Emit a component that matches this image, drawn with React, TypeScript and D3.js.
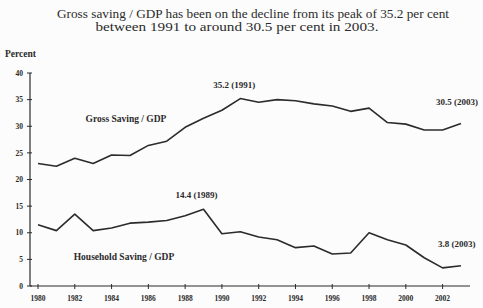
import * as d3 from 'd3';

const years = d3.range(1980, 2004);
const grossSaving = [23.0, 22.5, 24.0, 23.0, 24.6, 24.5, 26.4, 27.2, 29.8, 31.5, 33.0, 35.2, 34.5, 35.0, 34.8, 34.2, 33.8, 32.8, 33.4, 30.7, 30.4, 29.3, 29.3, 30.5];
const householdSaving = [11.5, 10.4, 13.5, 10.4, 10.9, 11.8, 12.0, 12.3, 13.2, 14.4, 9.8, 10.2, 9.2, 8.7, 7.2, 7.5, 6.0, 6.2, 10.0, 8.7, 7.7, 5.3, 3.4, 3.8];
const yTicks = [0, 5, 10, 15, 20, 25, 30, 35, 40];
const xTicks = d3.range(1980, 2004, 2);
const titleLines = [
  'Gross saving / GDP has been on the decline from its peak of 35.2 per cent',
  'between 1991 to around 30.5 per cent in 2003.',
];

const ink = '#2b2b2b';
const font = '"Liberation Serif", "DejaVu Serif", serif';

export default function App() {
  const W = 483;
  const H = 308;
  const x = d3.scaleLinear().domain([1980, 2003]).range([38, 461]);
  const y = d3.scaleLinear().domain([0, 40]).range([286, 73]);
  const axisX = 30;
  const axisRight = 470;

  const line = d3
    .line<number>()
    .x((_, i) => x(years[i]))
    .y((d) => y(d));

  const txt = { fontFamily: font };

  return (
    <svg
      width={W}
      height={H}
      style={{ position: 'absolute', left: 0, top: 0, background: '#fcfcfc', fontFamily: font }}
    >
      <text x={253} y={18} fontSize={12.5} textAnchor="middle" fill={ink} style={txt}
        textLength={392} lengthAdjust="spacingAndGlyphs">
        {titleLines[0]}
      </text>
      <text x={237} y={31} fontSize={12.5} textAnchor="middle" fill={ink} style={txt}
        textLength={283} lengthAdjust="spacingAndGlyphs">
        {titleLines[1]}
      </text>
      <text x={5} y={57} fontSize={9.5} fontWeight="bold" fill={ink} style={txt}>
        Percent
      </text>

      {/* axes */}
      <line x1={axisX} x2={axisX} y1={y(40)} y2={y(0)} stroke={ink} strokeWidth={1.2} />
      <line x1={axisX} x2={axisRight} y1={y(0)} y2={y(0)} stroke={ink} strokeWidth={1.2} />
      {yTicks.map((t) => (
        <g key={t}>
          <line x1={axisX - 3} x2={axisX + 2} y1={y(t)} y2={y(t)} stroke={ink} strokeWidth={1} />
          <text x={axisX - 7} y={y(t)} dy="0.35em" fontSize={7.5} fontWeight="bold" textAnchor="end" fill={ink} style={txt}>
            {t}
          </text>
        </g>
      ))}
      {xTicks.map((t) => (
        <g key={t}>
          <line x1={x(t)} x2={x(t)} y1={y(0) - 2} y2={y(0) + 3} stroke={ink} strokeWidth={1} />
          <text x={x(t)} y={y(0) + 15} fontSize={7.5} fontWeight="bold" textAnchor="middle" fill={ink} style={txt}>
            {t}
          </text>
        </g>
      ))}

      <path d={line(grossSaving) ?? ''} fill="none" stroke={ink} strokeWidth={1.6} strokeLinejoin="round" />
      <path d={line(householdSaving) ?? ''} fill="none" stroke={ink} strokeWidth={1.6} strokeLinejoin="round" />

      {/* annotations */}
      <text x={126} y={122} fontSize={9.5} fontWeight="bold" textAnchor="middle" fill={ink} style={txt}>
        Gross Saving / GDP
      </text>
      <text x={124} y={260} fontSize={9.5} fontWeight="bold" textAnchor="middle" fill={ink} style={txt}>
        Household Saving / GDP
      </text>
      <text x={x(1991) - 6} y={y(35.2) - 11} fontSize={9} fontWeight="bold" textAnchor="middle" fill={ink} style={txt}>
        35.2 (1991)
      </text>
      <text x={x(1989) - 7} y={y(14.4) - 11} fontSize={9} fontWeight="bold" textAnchor="middle" fill={ink} style={txt}>
        14.4 (1989)
      </text>
      <text x={436} y={105} fontSize={9} fontWeight="bold" fill={ink} style={txt}>
        30.5 (2003)
      </text>
      <text x={438} y={247} fontSize={9} fontWeight="bold" fill={ink} style={txt}>
        3.8 (2003)
      </text>
    </svg>
  );
}
